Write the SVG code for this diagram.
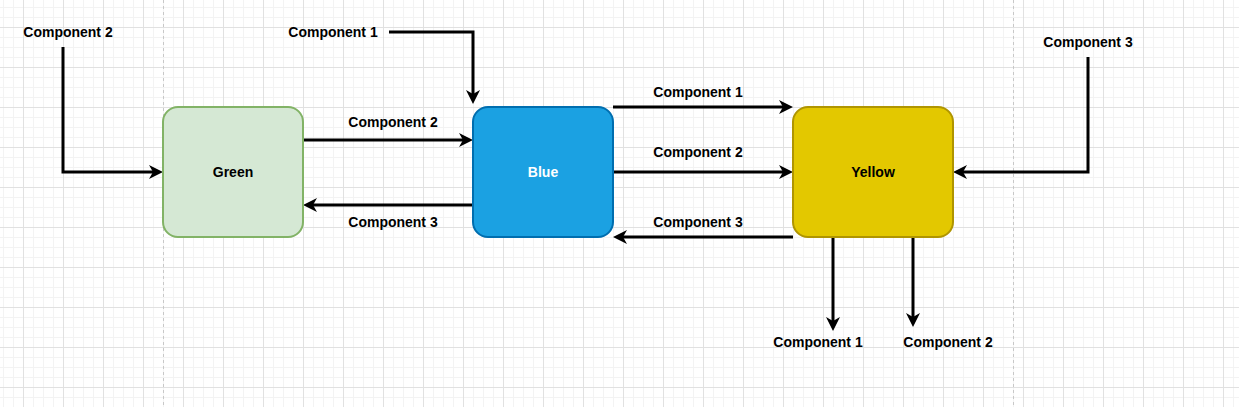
<svg xmlns="http://www.w3.org/2000/svg" width="1239" height="407" viewBox="0 0 1239 407">
<style>
.lbl{font-family:"Liberation Sans",Arial,sans-serif;font-size:14px;font-weight:bold;fill:#000;text-anchor:middle}
.edge{fill:none;stroke:#000;stroke-width:3;marker-end:url(#arr)}
.node{stroke-width:2}
</style>
<defs>
<marker id="arr" viewBox="0 0 14 14" refX="6" refY="7" markerWidth="14" markerHeight="14" markerUnits="userSpaceOnUse" orient="auto">
<path d="M0,0 L14,7 L0,14 L4,7 Z" fill="#000"/>
</marker>
<pattern id="grid" patternUnits="userSpaceOnUse" x="23" y="27" width="40" height="40">
<path d="M10.5,0V40M20.5,0V40M30.5,0V40M0,10.5H40M0,20.5H40M0,30.5H40" stroke="#f3f3f3" stroke-width="1"/>
<path d="M0.5,0V40M0,0.5H40" stroke="#e1e1e1" stroke-width="1"/>
</pattern>
</defs>
<rect width="1239" height="407" fill="#fff"/>
<rect width="1239" height="407" fill="url(#grid)"/>
<path d="M163.5,0V407M1013.5,0V407" stroke="#c8c8c8" stroke-width="1" stroke-dasharray="3,3"/>
<g id="connectors">
<path class="edge" d="M63,47V172H155"/>
<path class="edge" d="M389,32H473V96"/>
<path class="edge" d="M303,140H465"/>
<path class="edge" d="M473,205H311"/>
<path class="edge" d="M613,107H785"/>
<path class="edge" d="M613,172H785"/>
<path class="edge" d="M793,237H621"/>
<path class="edge" d="M1088,57V172H961"/>
<path class="edge" d="M833,237V323"/>
<path class="edge" d="M913,237V319"/>
</g>
<g id="edge-labels">
<text class="lbl" x="68" y="37">Component 2</text>
<text class="lbl" x="333" y="37">Component 1</text>
<text class="lbl" x="393" y="127">Component 2</text>
<text class="lbl" x="393" y="227">Component 3</text>
<text class="lbl" x="698" y="97">Component 1</text>
<text class="lbl" x="698" y="157">Component 2</text>
<text class="lbl" x="698" y="227">Component 3</text>
<text class="lbl" x="1088" y="47">Component 3</text>
<text class="lbl" x="818" y="347">Component 1</text>
<text class="lbl" x="948" y="347">Component 2</text>
</g>
<g id="green">
<rect class="node" x="163" y="107" width="140" height="130" rx="15" fill="#d5e8d4" stroke="#82b366"/>
<text class="lbl" x="233" y="177">Green</text>
</g>
<g id="blue">
<rect class="node" x="473" y="107" width="140" height="130" rx="15" fill="#1ba1e2" stroke="#006eaf"/>
<text class="lbl" x="543" y="177" style="fill:#fff">Blue</text>
</g>
<g id="yellow">
<rect class="node" x="793" y="107" width="160" height="130" rx="15" fill="#e3c800" stroke="#b09500"/>
<text class="lbl" x="873" y="177">Yellow</text>
</g>
</svg>
